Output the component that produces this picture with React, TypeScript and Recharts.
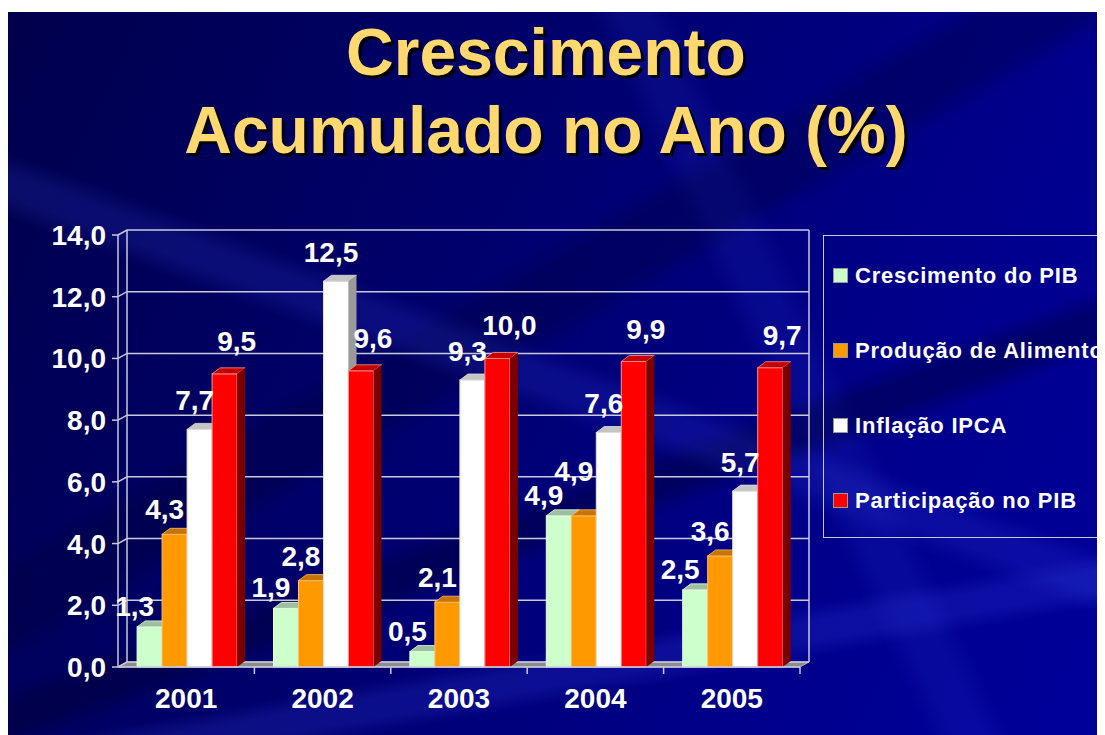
import React from 'react'
import { BarChart, Bar, XAxis, YAxis, CartesianGrid, Legend, LabelList } from 'recharts'

const categories = ['2001', '2002', '2003', '2004', '2005']
const crescimentoPib = [1.3, 1.9, 0.5, 4.9, 2.5]
const producaoAlimentos = [4.3, 2.8, 2.1, 4.9, 3.6]
const inflacaoIpca = [7.7, 12.5, 9.3, 7.6, 5.7]
const participacaoPib = [9.5, 9.6, 10.0, 9.9, 9.7]
const yTicks = [0, 2, 4, 6, 8, 10, 12, 14]

const data = categories.map((ano, i) => ({
  ano,
  pib: crescimentoPib[i],
  alimentos: producaoAlimentos[i],
  ipca: inflacaoIpca[i],
  participacao: participacaoPib[i],
}))

const series = [
  { key: 'pib', name: 'Crescimento do PIB', front: '#ccffcc', top: '#9dbf9d', side: '#6f946f', edge: '#e8ffe8', labelDx: -15, labelDy: 11 },
  { key: 'alimentos', name: 'Produção de Alimentos', front: '#ff9900', top: '#c77400', side: '#995a00', edge: '#ffc070', labelDx: -10, labelDy: 15 },
  { key: 'ipca', name: 'Inflação IPCA', front: '#ffffff', top: '#c4c4c4', side: '#9a9a9a', edge: '#e0e0e0', labelDx: -5, labelDy: 19 },
  { key: 'participacao', name: 'Participação no PIB', front: '#ff0000', top: '#c40000', side: '#7a0000', edge: '#ff9090', labelDx: 12, labelDy: 23 },
]

const FONT = '"Liberation Sans", Arial, sans-serif'
const WALL_DX = 9
const WALL_DY = 5
const BAR_DX = 8
const BAR_DY = 6
const LINE = '#c9c9dc'

const fmt = (v: number) => v.toFixed(1).replace('.', ',')

function make3dBar(s: typeof series[number]) {
  return (props: any) => {
    const { x, y, width, height } = props
    if (!height || height <= 0) return <g />
    return (
      <g>
        <rect x={x} y={y} width={width} height={height} fill={s.front} stroke={s.edge} strokeWidth={1} />
        <polygon
          points={`${x},${y} ${x + BAR_DX},${y - BAR_DY} ${x + width + BAR_DX},${y - BAR_DY} ${x + width},${y}`}
          fill={s.top}
          stroke={s.edge}
          strokeWidth={0.8}
        />
        <polygon
          points={`${x + width},${y} ${x + width + BAR_DX},${y - BAR_DY} ${x + width + BAR_DX},${y + height - BAR_DY} ${x + width},${y + height}`}
          fill={s.side}
        />
      </g>
    )
  }
}

function makeLabel(si: number) {
  const s = series[si]
  return (props: any) => {
    const { x, y, width, value, index } = props
    // lift a label when the previous bar in the group has almost the same height
    let lift = 0
    if (si > 0) {
      const prev = Number((data[index] as any)[series[si - 1].key])
      if (Math.abs(prev - Number(value)) < 0.6) lift = 20
    }
    return (
      <text
        x={x + width / 2 + s.labelDx}
        y={y - s.labelDy - lift}
        textAnchor="middle"
        fill="#ffffff"
        fontFamily={FONT}
        fontWeight="bold"
        fontSize={28}
      >
        {fmt(Number(value))}
      </text>
    )
  }
}

// back wall lines, floor and category boundary ticks, drawn from the grid geometry
function gridLine(props: any) {
  const { x1, x2, y1, y, height, index } = props
  const left = x1
  const right = x2
  const bottom = y + height
  const top = y
  const isBottom = Math.abs(y1 - bottom) < 1
  const isTop = Math.abs(y1 - top) < 1
  return (
    <g key={`gl-${index}`}>
      {isBottom && (
        <g>
          <polygon
            points={`${left},${bottom} ${left + WALL_DX},${bottom - WALL_DY} ${right + WALL_DX},${bottom - WALL_DY} ${right},${bottom}`}
            fill="#8c8c8c"
            stroke="#b0b0b0"
            strokeWidth={1}
          />
          {categories.map((_, i) => {
            const bx = left + ((i + 1) * (right - left)) / categories.length
            return <line key={i} x1={bx} y1={bottom} x2={bx} y2={bottom + 7} stroke={LINE} strokeWidth={1.5} />
          })}
        </g>
      )}
      {isTop && (
        <g>
          <line x1={left + WALL_DX} y1={top - WALL_DY} x2={left + WALL_DX} y2={bottom - WALL_DY} stroke={LINE} strokeWidth={1.5} />
          <line x1={right + WALL_DX} y1={top - WALL_DY} x2={right + WALL_DX} y2={bottom - WALL_DY} stroke={LINE} strokeWidth={1.5} />
        </g>
      )}
      <polyline
        points={`${left},${y1} ${left + WALL_DX},${y1 - WALL_DY} ${right + WALL_DX},${y1 - WALL_DY}`}
        fill="none"
        stroke={LINE}
        strokeWidth={1.5}
      />
    </g>
  )
}

function XTick(props: any) {
  const { x, y, payload } = props
  return (
    <text x={x} y={y + 41} textAnchor="middle" fill="#ffffff" fontFamily={FONT} fontWeight="bold" fontSize={28}>
      {payload.value}
    </text>
  )
}

function renderLegend(props: any) {
  const order = series.map((s) => s.name)
  const payload = [...(props.payload || [])].sort(
    (a: any, b: any) => order.indexOf(a.value) - order.indexOf(b.value)
  )
  return (
    <div
      style={{
        border: '1.5px solid #c9c9dc',
        height: 303,
        width: 300,
        boxSizing: 'border-box',
        paddingTop: 2,
      }}
    >
      {payload.map((p: any) => (
        <div key={p.value} style={{ height: 75, display: 'flex', alignItems: 'center', whiteSpace: 'nowrap' }}>
          <span
            style={{
              display: 'inline-block',
              width: 13,
              height: 13,
              background: p.color,
              border: '1px solid #999',
              marginLeft: 9,
              marginRight: 7,
            }}
          />
          <span style={{ color: '#ffffff', fontFamily: FONT, fontWeight: 'bold', fontSize: 22, letterSpacing: 0.8 }}>
            {p.value}
          </span>
        </div>
      ))}
    </div>
  )
}

export default function App() {
  return (
    <div
      style={{
        position: 'relative',
        marginTop: 4,
        width: 1097,
        height: 723,
        overflow: 'hidden',
        background: [
          'linear-gradient(200deg, transparent 0 48%, rgba(70,90,255,0.14) 50% 52%, transparent 54%)',
          'linear-gradient(160deg, transparent 0 60%, rgba(0,0,40,0.35) 62% 64%, transparent 66%)',
          'linear-gradient(170deg, transparent 0 80%, rgba(70,90,255,0.16) 82% 84%, transparent 86%)',
          'linear-gradient(150deg, transparent 0 40%, rgba(0,0,40,0.25) 42% 46%, transparent 48%)',
          'linear-gradient(245deg, transparent 0 30%, rgba(70,90,255,0.10) 32% 34%, transparent 36%)',
          'linear-gradient(115deg, #00004c 0%, #000064 30%, #00007a 55%, #00008e 78%, #00009a 100%)',
        ].join(', '),
      }}
    >
      <div
        style={{
          position: 'absolute',
          left: 0,
          top: 1,
          width: 1076,
          textAlign: 'center',
          fontFamily: FONT,
          fontWeight: 'bold',
          fontSize: 66,
          lineHeight: '78px',
          color: '#ffd970',
          textShadow: '3px 3px 0 #000000',
        }}
      >
        <div>Crescimento</div>
        <div>Acumulado no Ano (%)</div>
      </div>
      <div style={{ position: 'absolute', left: 0, top: 0 }}>
        <BarChart
          width={1097}
          height={723}
          data={data}
          margin={{ top: 223, right: 305, bottom: 28, left: 10 }}
          barCategoryGap="14%"
          barGap={0}
        >
          <CartesianGrid vertical={false} horizontal={gridLine} />
          <XAxis
            dataKey="ano"
            height={40}
            axisLine={{ stroke: LINE, strokeWidth: 1.5 }}
            tickLine={false}
            tickSize={0}
            tickMargin={0}
            tick={<XTick />}
          />
          <YAxis
            width={100}
            domain={[0, 14]}
            ticks={yTicks}
            interval={0}
            tickFormatter={fmt}
            axisLine={{ stroke: LINE, strokeWidth: 1.5 }}
            tickLine={{ stroke: LINE, strokeWidth: 1.5 }}
            tickSize={6}
            tickMargin={6}
            tick={{ fill: '#ffffff', fontFamily: FONT, fontWeight: 'bold', fontSize: 28 }}
          />
          <Legend
            layout="horizontal"
            align="center"
            verticalAlign="middle"
            content={renderLegend}
            wrapperStyle={{ left: 815, top: 223, width: 300, height: 303 }}
          />
          {series.map((s, si) => (
            <Bar
              key={s.key}
              dataKey={s.key}
              name={s.name}
              fill={s.front}
              shape={make3dBar(s)}
              isAnimationActive={false}
            >
              <LabelList dataKey={s.key} content={makeLabel(si)} />
            </Bar>
          ))}
        </BarChart>
      </div>
    </div>
  )
}
